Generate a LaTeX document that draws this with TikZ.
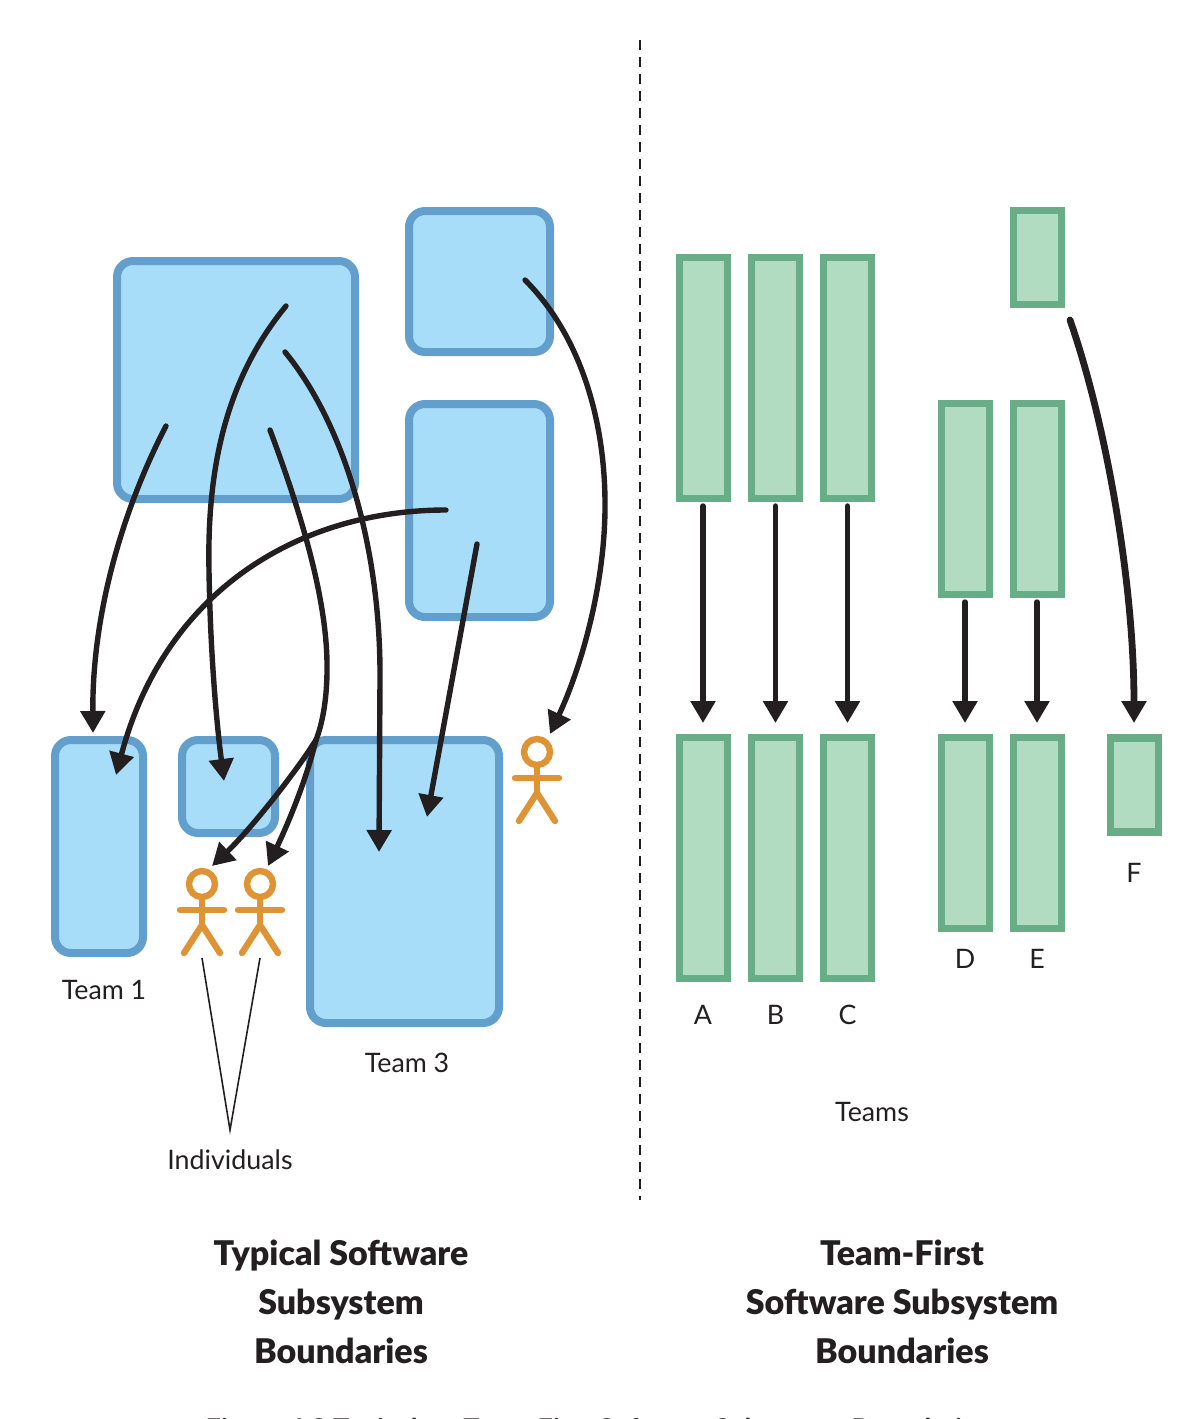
\documentclass[tikz,border=0pt]{standalone}
\usepackage{fontspec}
\setmainfont{Lato}
\newfontfamily\titlefont{Lato Black}
\usetikzlibrary{arrows.meta}
\definecolor{boxblue}{HTML}{A8DDF9}
\definecolor{lineblue}{HTML}{639FCC}
\definecolor{boxgreen}{HTML}{B2DCC1}
\definecolor{linegreen}{HTML}{69AD87}
\definecolor{personorange}{HTML}{DE9435}
\definecolor{arrowblack}{HTML}{231F20}
\tikzset{
  bluebox/.style={draw=lineblue,fill=boxblue,line width=4pt,rounded corners=8pt,inner sep=0pt,outer sep=0pt},
  greenbox/.style={draw=linegreen,fill=boxgreen,line width=3.8pt,inner sep=0pt,outer sep=0pt,minimum width=24pt},
  link/.style={arrowblack,line width=2.7pt,line cap=round,-{Triangle[length=11pt,width=12pt]}},
  personline/.style={personorange,line width=3.2pt,line cap=round},
  label/.style={text=arrowblack,font=\fontsize{13.4}{16}\selectfont,inner sep=0pt},
  heading/.style={text=arrowblack,font=\titlefont\fontsize{17}{24.5}\selectfont,align=center,inner sep=0pt},
  person/.pic={
    \draw[personline] (0,0) circle (13);
    \draw[personline] (0,13) -- (0,41);
    \draw[personline] (-22,26) -- (22,26);
    \draw[personline] (-18,69) -- (0,41) -- (18,69);
  }
}
\begin{document}
\begin{tikzpicture}[x=0.5pt,y=-0.5pt]
  \useasboundingbox (0,0) rectangle (1201,1419);
  \clip (0,0) rectangle (1201,1419);
  % dashed divider
  \coordinate (divtop) at (640,40);
  \coordinate (divbot) at (640,1200);
  \draw[arrowblack,line width=1pt,dash pattern=on 5pt off 3.5pt] (divtop) -- (divbot);
  % left side boxes
  \node[bluebox,minimum width=119pt,minimum height=119pt] (big) at (236,380) {};
  \node[bluebox,minimum width=70.5pt,minimum height=70.5pt] (corner) at (479.5,281.5) {};
  \node[bluebox,minimum width=70.5pt,minimum height=106.5pt] (middle) at (479.5,510.5) {};
  \node[bluebox,minimum width=44pt,minimum height=106.5pt] (teamone) at (99,846.5) {};
  \node[bluebox,minimum width=46.5pt,minimum height=46.5pt] (teamtwo) at (228.5,786.5) {};
  \node[bluebox,minimum width=94.5pt,minimum height=141.5pt] (teamthree) at (404.5,881.5) {};
  % individuals
  \pic at (202,884) {person};
  \pic at (260,884) {person};
  \pic at (537,752) {person};
  \coordinate (legone) at (202,958);
  \coordinate (legtwo) at (260,958);
  \coordinate (meet) at (230,1130);
  \draw[arrowblack,line width=0.8pt] (legone) -- (meet) -- (legtwo);
  % right side boxes
  \foreach \name/\cx in {a/703.5,b/775.5,c/847.5} {
    \node[greenbox,minimum height=120.5pt] (\name top) at (\cx,378) {};
    \node[greenbox,minimum height=120.5pt] (\name low) at (\cx,858) {};
  }
  \foreach \name/\cx in {d/965.5,e/1037.5} {
    \node[greenbox,minimum height=95.5pt] (\name top) at (\cx,499) {};
    \node[greenbox,minimum height=95.5pt] (\name low) at (\cx,833) {};
  }
  \node[greenbox,minimum height=47pt] (ftop) at (1037.5,257.5) {};
  \node[greenbox,minimum height=47pt] (flow) at (1134.5,785) {};
  % left side links
  \coordinate (s1) at (166,426);
  \coordinate (t1) at (93,733);
  \coordinate (s2) at (286,306);
  \coordinate (t2) at (224,781);
  \coordinate (s3) at (285,352);
  \coordinate (t3) at (379,852);
  \coordinate (s4) at (270,430);
  \coordinate (fork) at (316,740);
  \coordinate (t4a) at (212,866);
  \coordinate (t4b) at (268,866);
  \coordinate (s5) at (446,510);
  \coordinate (t5) at (116,775);
  \coordinate (s6) at (477,544);
  \coordinate (t6) at (427,817);
  \coordinate (s7) at (525,280);
  \coordinate (t7) at (550,734);
  \draw[link] (s1) .. controls (125,505) and (92,610) .. (t1);
  \draw[link] (s2) .. controls (225,380) and (207,470) .. (209,570) .. controls (210,640) and (215,710) .. (t2);
  \draw[link] (s3) .. controls (345,425) and (381,550) .. (380,680) -- (t3);
  \draw[arrowblack,line width=2.7pt,line cap=round] (s4) .. controls (300,510) and (328,600) .. (327,670) .. controls (327,700) and (322,725) .. (fork);
  \draw[link] (fork) .. controls (305,785) and (285,830) .. (t4b);
  \draw[link] (fork) .. controls (296,772) and (250,830) .. (t4a);
  \draw[link] (s5) .. controls (300,510) and (165,590) .. (t5);
  \draw[link] (s6) -- (t6);
  \draw[link] (s7) .. controls (580,335) and (606,420) .. (605,510) .. controls (604,590) and (580,670) .. (t7);
  % right side links
  \foreach \name/\cx in {a/703,b/775.5,c/847.5} {
    \coordinate (\name from) at (\cx,506);
    \coordinate (\name to) at (\cx,723);
    \draw[link] (\name from) -- (\name to);
  }
  \foreach \name/\cx in {d/965,e/1037} {
    \coordinate (\name from) at (\cx,602);
    \coordinate (\name to) at (\cx,723);
    \draw[link] (\name from) -- (\name to);
  }
  \coordinate (ffrom) at (1070,320);
  \coordinate (fto) at (1134,723);
  \draw[link,line width=3.4pt] (ffrom) .. controls (1105,420) and (1134,580) .. (fto);
  % labels
  \node[label] (lone) at (104,990) {Team 1};
  \node[label] (lthree) at (407,1063) {Team 3};
  \node[label] (lind) at (230,1160) {Individuals};
  \foreach \name/\txt/\cx/\cy in {la/A/703/1015,lb/B/775.5/1015,lc/C/847.5/1015,ld/D/965/959,le/E/1037/959,lf/F/1134/873} {
    \node[label] (\name) at (\cx,\cy) {\txt};
  }
  \node[label] (lteams) at (872,1112) {Teams};
  \node[heading] (titleleft) at (341,1302) {Typical Software\\Subsystem\\Boundaries};
  \node[heading] (titleright) at (902,1302) {Team-First\\Software Subsystem\\Boundaries};
  \node[text=arrowblack,font=\bfseries\fontsize{13.6}{16}\selectfont,inner sep=0pt,anchor=base] (caption) at (597,1438) {Figure 6.3 Typical vs.\ Team-First Software Subsystem Boundaries};
\end{tikzpicture}
\end{document}
